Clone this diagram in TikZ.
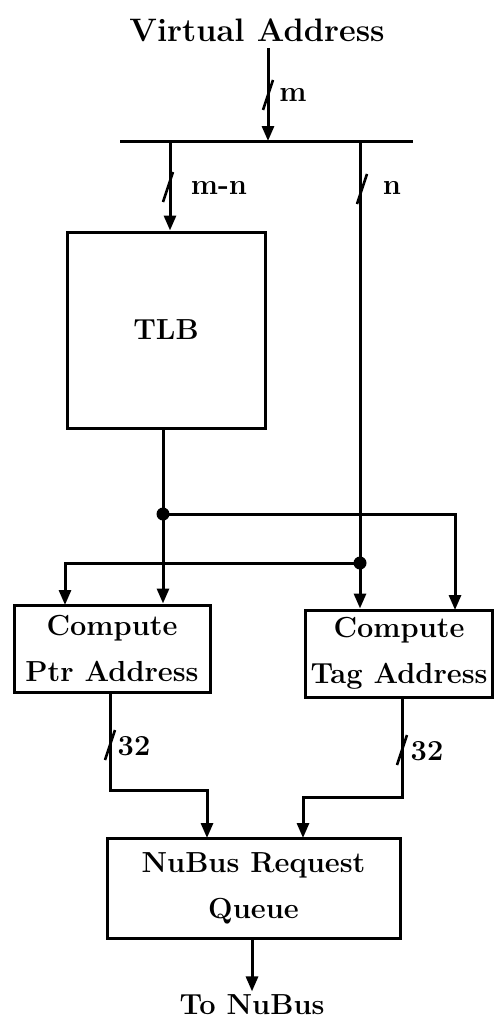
\documentclass[tikz,border=0pt]{standalone}
\usepackage{fontspec}
\usetikzlibrary{arrows.meta,calc}
\begin{document}
\begin{tikzpicture}[x=1pt,y=-1pt,
  every node/.style={font=\fontsize{29}{46}\selectfont\bfseries},
  wire/.style={line width=3pt},
  arr/.style={wire,-{Triangle[length=15pt,width=12pt]}},
  blk/.style={draw,line width=3pt,align=center,inner sep=0pt},
  busmark/.style={line width=2.6pt},
  jdot/.style={circle,fill,inner sep=0pt,minimum size=13pt}]
\useasboundingbox (0,0) rectangle (494,1025);
% text terminals
\node[font=\fontsize{32.5}{40}\selectfont\bfseries] (va) at (257,30) {Virtual Address};
\node (tonb) at (252,1005) {To NuBus};
% blocks
\node[blk,minimum width=198pt,minimum height=196pt] (tlb) at (166,330) {TLB};
\node[blk,minimum width=196pt,minimum height=87pt] (ptr) at (112,648.5) {Compute\\Ptr Address};
\node[blk,minimum width=187pt,minimum height=87pt] (tag) at (399,653.5) {Compute\\Tag Address};
\node[blk,minimum width=293pt,minimum height=100pt] (que) at (253.5,888) {NuBus Request\\Queue};
% bus
\coordinate (busL) at (120,141);
\coordinate (busR) at (413,141);
\draw[wire] (busL) -- (busR);
\coordinate (busin) at (268,141);
\coordinate (vaout) at (268,48);
\draw[arr] (vaout) -- (busin);
\coordinate (busA) at (170,141);
\coordinate (busB) at (360,141);
\draw[arr] (busA) -- (busA |- tlb.north);
% junctions
\coordinate (j1) at (163,514);
\coordinate (j2) at (360,563);
\draw[wire] (busB) -- (j2);
\draw[arr] (j2) -- (j2 |- tag.north);
\draw[wire] (j1 |- tlb.south) -- (j1);
\draw[arr] (j1) -- (j1 |- ptr.north);
\coordinate (tagR) at (455,610);
\coordinate (ptrL) at (65,605);
\draw[arr] (j1) -| (tagR);
\draw[arr] (j2) -| (ptrL);
\node[jdot] (d1) at (j1) {};
\node[jdot] (d2) at (j2) {};
% outputs to queue
\coordinate (po) at (110,692);
\coordinate (pb) at (110,790);
\coordinate (qa) at (207,838);
\draw[arr] (po) -- (pb) -| (qa);
\coordinate (to) at (402,697);
\coordinate (tb) at (402,797);
\coordinate (qb) at (303,838);
\draw[arr] (to) -- (tb) -| (qb);
\draw[arr] (que.south -| tonb) -- (tonb.north);
% bus width marks
\foreach \cx/\cy in {268/95,168/187,362/189,110/745,402/750}
  \draw[busmark] (\cx-5,\cy+15) -- (\cx+5,\cy-15);
% labels
\node (lm) at (293,95) {m};
\node (lmn) at (219,188) {m-n};
\node (ln) at (392,188) {n};
\node (l32a) at (134,746) {32};
\node (l32b) at (427,751) {32};
\end{tikzpicture}
\end{document}
